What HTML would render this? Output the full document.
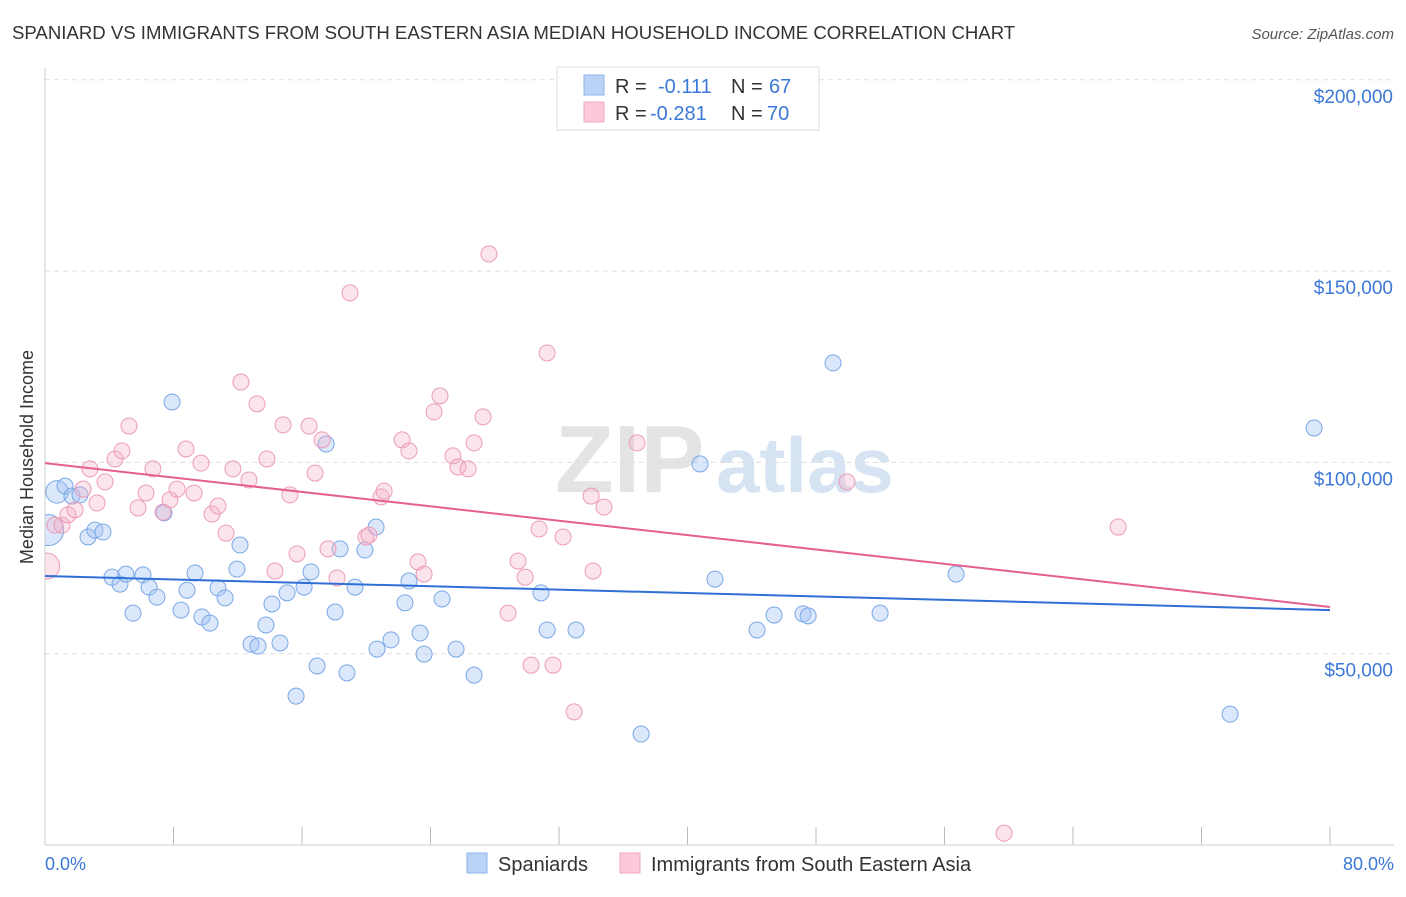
<!DOCTYPE html>
<html><head><meta charset="utf-8"><style>
body{margin:0;background:#fff;font-family:"Liberation Sans",sans-serif;}
svg text{font-family:"Liberation Sans",sans-serif;}
</style></head><body>
<svg id="chart" width="1406" height="892" xmlns="http://www.w3.org/2000/svg">
<defs><clipPath id="plotclip"><rect x="45" y="60" width="1360" height="785"/></clipPath></defs>
<text x="12" y="39" font-size="18.6" fill="#333">SPANIARD VS IMMIGRANTS FROM SOUTH EASTERN ASIA MEDIAN HOUSEHOLD INCOME CORRELATION CHART</text>
<text x="1394" y="39" font-size="15" fill="#555" text-anchor="end" font-style="italic">Source: ZipAtlas.com</text>
<text x="555" y="492" font-size="96" fill="#e4e4e4" font-family="Liberation Serif" font-weight="bold">ZIP</text>
<text x="716" y="492" font-size="78" fill="#d6e3f3" font-weight="bold">atlas</text>
<g id="grid"></g>
<line x1="45" y1="68" x2="45" y2="845" stroke="#ccc"/>
<line x1="45" y1="845" x2="1394" y2="845" stroke="#ccc"/>
<text transform="translate(33,457) rotate(-90)" font-size="18" fill="#333" text-anchor="middle">Median Household Income</text>
<text x="45" y="870" font-size="18" fill="#3b78d8">0.0%</text>
<text x="1394" y="870" font-size="18" fill="#3b78d8" text-anchor="end">80.0%</text>
<g id="points" clip-path="url(#plotclip)"></g>
<g id="lines"></g>
<g>
<rect x="557" y="67" width="262" height="63" fill="#fff" stroke="#ddd"/>
<rect x="584" y="75" width="20" height="20" fill="#b9d3f6" stroke="#8db5ea"/>
<rect x="584" y="102" width="20" height="20" fill="#fbc9d7" stroke="#f0a8bf"/>
<text x="615" y="93" font-size="20" fill="#333">R =</text>
<text x="658" y="93" font-size="20" fill="#3b78d8">-0.111</text>
<text x="731" y="93" font-size="20" fill="#333">N =</text>
<text x="769" y="93" font-size="20" fill="#3b78d8">67</text>
<text x="615" y="120" font-size="20" fill="#333">R =</text>
<text x="650" y="120" font-size="20" fill="#3b78d8">-0.281</text>
<text x="731" y="120" font-size="20" fill="#333">N =</text>
<text x="767" y="120" font-size="20" fill="#3b78d8">70</text>
</g>
<g>
<rect x="467" y="853" width="20" height="20" fill="#b9d3f6" stroke="#8db5ea"/>
<text x="498" y="871" font-size="20" fill="#333">Spaniards</text>
<rect x="620" y="853" width="20" height="20" fill="#fbc9d7" stroke="#f0a8bf"/>
<text x="651" y="871" font-size="20" fill="#333">Immigrants from South Eastern Asia</text>
</g>
</svg>
<script>
const yTicks=[50000,100000,150000,200000];
const yTickLabels=["$50,000","$100,000","$150,000","$200,000"];
const xTicks=[0,8,16,24,32,40,48,56,64,72,80];
const blueX=[0.75,0.2,1.25,1.68,2.18,2.68,3.11,3.61,4.17,4.67,5.04,5.48,6.10,6.48,6.97,7.41,7.91,8.47,8.84,9.34,9.77,10.27,10.77,11.21,11.95,12.14,12.83,13.26,13.76,14.13,14.63,15.07,15.63,16.13,16.56,16.94,17.50,18.06,18.37,18.80,19.30,19.92,20.61,20.67,21.54,22.41,22.66,23.35,23.60,24.72,25.59,26.71,30.88,31.26,33.06,37.11,40.78,41.71,44.33,45.39,47.19,47.51,49.06,51.99,56.72,73.78,79.01];
const blueY=[92.3,82.3,93.8,91.2,91.5,80.5,82.3,81.8,70.0,68.2,70.8,60.6,70.6,67.4,64.8,86.8,115.8,61.4,66.6,71.1,59.6,58.0,67.2,64.6,72.1,78.4,52.5,52.0,57.5,63.0,52.8,65.9,38.9,67.4,71.4,46.8,104.8,60.9,77.4,45.0,67.4,77.1,83.1,51.2,53.6,63.3,69.0,55.4,49.9,64.3,51.2,44.4,65.9,56.2,56.2,29.0,99.6,69.5,56.2,60.1,60.4,59.9,126.0,60.6,70.8,34.2,109.0];
const blueWeight=[1.3,3];
const pinkX=[0.1,0.62,1.06,1.43,1.87,2.37,2.80,3.24,3.74,4.36,4.79,5.23,5.79,6.29,6.72,7.35,7.78,8.22,8.78,9.28,9.71,10.40,10.77,11.27,11.70,12.20,12.70,13.20,13.82,14.32,14.82,15.25,15.69,16.44,16.81,17.25,17.62,18.18,18.99,19.98,20.17,20.92,21.11,22.23,22.66,23.22,23.60,24.22,24.59,25.40,25.71,26.34,26.71,27.27,27.64,28.83,29.45,29.89,30.26,30.76,31.26,31.63,32.25,32.94,34.00,34.12,34.80,36.86,49.93,59.71,66.81];
const pinkY=[72.9,83.6,83.6,86.3,87.6,93.0,98.3,89.4,94.9,100.9,103.0,109.5,88.1,92.0,98.3,87.0,90.2,93.0,103.5,92.0,99.8,86.5,88.6,81.5,98.3,121.0,95.4,115.3,100.9,71.6,109.8,91.5,76.1,109.5,97.2,105.9,77.4,69.8,144.3,80.5,81.0,91.0,92.5,105.9,103.0,74.0,70.8,113.2,117.4,101.7,98.8,98.3,105.1,111.9,154.5,60.6,74.2,70.0,47.0,82.6,128.6,47.0,80.5,34.8,91.2,71.6,88.3,105.1,94.9,3.1,83.1];
const pinkWeight=[2];
const blueTrend=[70300,61400];
const pinkTrend=[99800,62200];
const NS="http://www.w3.org/2000/svg";
const xs=p=>45+p/80*1285;
const ys=v=>845-v/50000*191.3;
const grid=document.getElementById('grid');
yTicks.forEach((t,i)=>{
  const l=document.createElementNS(NS,'line');
  
  
  l.setAttribute('x1',45);l.setAttribute('x2',1394);
  l.setAttribute('y1',ys(t));l.setAttribute('y2',ys(t));
  l.setAttribute('stroke','#ddd');l.setAttribute('stroke-dasharray','5,4');
  grid.appendChild(l);
  const tx=document.createElementNS(NS,'text');
  
  
  tx.setAttribute('x',1393);tx.setAttribute('y',ys(t)+23);
  tx.setAttribute('text-anchor','end');tx.setAttribute('font-size','19');tx.setAttribute('fill','#3b78d8');
  tx.textContent=yTickLabels[i];grid.appendChild(tx);
});
xTicks.forEach(t=>{
  const l=document.createElementNS(NS,'line');
  
  
  l.setAttribute('x1',xs(t));l.setAttribute('x2',xs(t));
  l.setAttribute('y1',827);l.setAttribute('y2',845);
  l.setAttribute('stroke','#bbb');
  grid.appendChild(l);
});
const pts=document.getElementById('points');
function draw(X,Y,W,fill,stroke,name){
  X.forEach((x,i)=>{
    const c=document.createElementNS(NS,'circle');
    
    
    c.setAttribute('cx',xs(x));c.setAttribute('cy',ys(Y[i]*1000));
    c.setAttribute('r',8+(W[i]||0)*2.5);
    c.setAttribute('fill',fill);c.setAttribute('stroke',stroke);c.setAttribute('stroke-width','1');
    pts.appendChild(c);
  });
}
draw(blueX,blueY,blueWeight,'rgba(164,196,244,0.4)','#7aa8e6','spaniard-point');
draw(pinkX,pinkY,pinkWeight,'rgba(247,178,200,0.35)','#eb9cb6','immigrant-point');
const lines=document.getElementById('lines');
function trend(T,color,name){
  const l=document.createElementNS(NS,'line');
  
  
  l.setAttribute('x1',xs(0));l.setAttribute('x2',xs(80));
  l.setAttribute('y1',ys(T[0]));l.setAttribute('y2',ys(T[1]));
  l.setAttribute('stroke',color);l.setAttribute('stroke-width','2');
  lines.appendChild(l);
}
trend(blueTrend,'#2f6fd6','spaniards-trend-line');
trend(pinkTrend,'#e5608e','immigrants-trend-line');
</script>
</body></html>
